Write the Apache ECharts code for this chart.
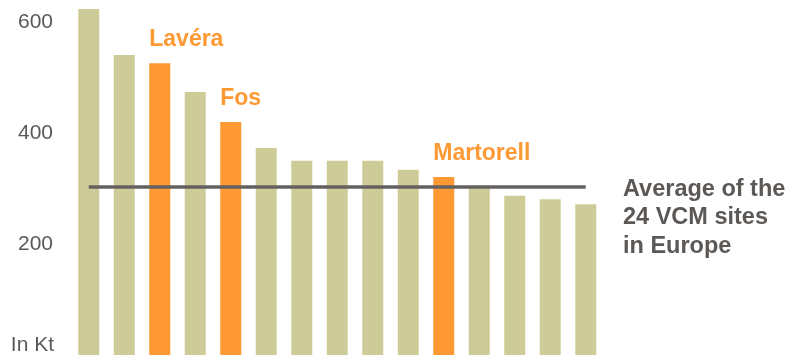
<!DOCTYPE html>
<html>
<head>
<meta charset="utf-8">
<script src="https://cdn.jsdelivr.net/npm/echarts@6/dist/echarts.min.js"></script>
<style>
  html, body { margin: 0; padding: 0; background: #ffffff; }
  #chart { width: 792px; height: 357px; }
</style>
</head>
<body>
<div id="chart"></div>
<script>
// VCM production sites ranked by capacity (Kt)
const siteRanks = ['1', '2', '3', '4', '5', '6', '7', '8', '9', '10', '11', '12', '13', '14', '15'];
const capacities = [624, 541, 526, 474, 420, 373, 350, 350, 350, 334, 321, 302, 287, 281, 272];
// Named sites to highlight ('' = not highlighted)
const siteNames = ['', '', 'Lavéra', '', 'Fos', '', '', '', '', '', 'Martorell', '', '', '', ''];
const europeAverage = 303;
const yTicks = [200, 400, 600];
const averageText = ['Average of the', '24 VCM sites', 'in Europe'];
const unitText = 'In Kt';

const OLIVE = '#cdcc98';
const ORANGE = '#ff9933';
const GREY = '#5c5856';
const FONT = '"Liberation Sans", Arial, sans-serif';

const chart = echarts.init(document.getElementById('chart'));

const barData = capacities.map((v, i) => {
  const name = siteNames[i];
  if (!name) return { value: v, itemStyle: { color: OLIVE } };
  return {
    value: v,
    itemStyle: { color: ORANGE },
    label: {
      show: true,
      position: 'top',
      distance: 0,
      align: 'left',
      verticalAlign: 'middle',
      offset: [-10.5, -23.5],
      formatter: name,
      color: ORANGE,
      fontFamily: FONT,
      fontWeight: 'bold',
      fontSize: 23
    }
  };
});

chart.setOption({
  animation: false,
  backgroundColor: '#ffffff',
  grid: { left: 71, top: 0, width: 532.5, height: 355 },
  xAxis: {
    type: 'category',
    data: siteRanks,
    axisLine: { show: false },
    axisTick: { show: false },
    axisLabel: { show: false },
    splitLine: { show: false }
  },
  yAxis: {
    type: 'value',
    min: 0,
    max: 640,
    interval: 200,
    axisLine: { show: false },
    axisTick: { show: false },
    splitLine: { show: false },
    axisLabel: {
      margin: 18,
      color: GREY,
      fontFamily: FONT,
      fontSize: 21,
      showMaxLabel: false,
      formatter: v => (yTicks.indexOf(v) >= 0 ? String(v) : '')
    }
  },
  series: [{
    type: 'bar',
    data: barData,
    barWidth: 21,
    label: { show: false },
    markLine: {
      silent: true,
      symbol: ['none', 'none'],
      label: { show: false },
      lineStyle: { color: '#646060', width: 3.5, type: 'solid' },
      data: [[
        { coord: [siteRanks[0], europeAverage] },
        { coord: [siteRanks[siteRanks.length - 1], europeAverage] }
      ]]
    }
  }],
  graphic: [
    {
      type: 'text',
      left: 623,
      top: 175,
      style: {
        text: averageText.join('\n'),
        fill: GREY,
        font: 'bold 23.5px ' + FONT,
        lineHeight: 28.5
      }
    },
    {
      type: 'text',
      x: 54,
      y: 345,
      style: {
        text: unitText,
        fill: GREY,
        font: '21px ' + FONT,
        textAlign: 'right',
        textVerticalAlign: 'middle'
      }
    }
  ]
});
</script>
</body>
</html>
